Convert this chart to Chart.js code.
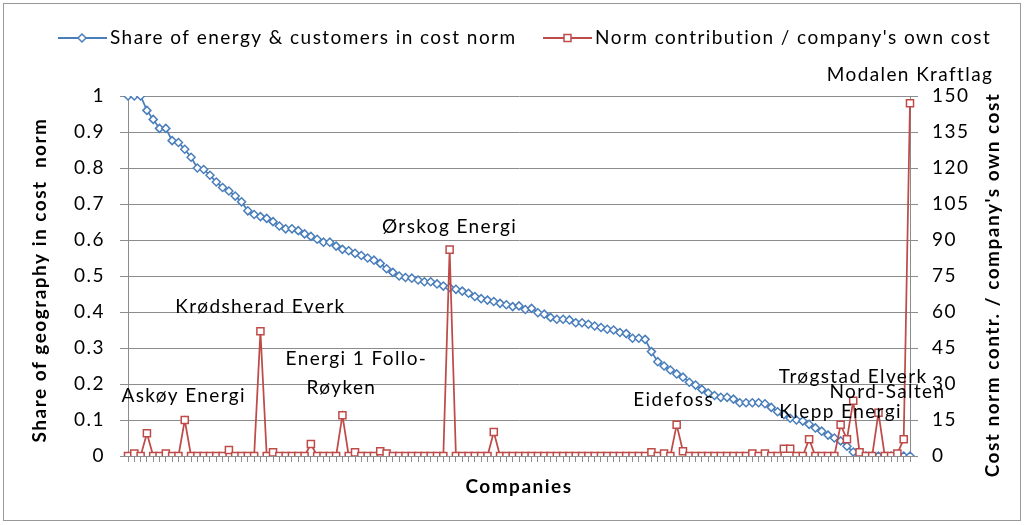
<!DOCTYPE html>
<html>
<head>
<meta charset="utf-8">
<script src="https://cdn.jsdelivr.net/npm/chart.js@4.4.0/dist/chart.umd.min.js"></script>
<style>
  html, body { margin: 0; padding: 0; background: #fff; }
  #wrap { position: relative; width: 1028px; height: 525px; }
</style>
</head>
<body>
<div id="wrap"><canvas id="chart" width="1028" height="525"></canvas></div>
<script>
// Share of energy & customers in cost norm (left axis)
const shareGeo = [
  1, 1, 1, 0.96, 0.935, 0.91, 0.91, 0.876, 0.871, 0.852,
  0.83, 0.80, 0.796, 0.78, 0.761, 0.746, 0.736, 0.722, 0.706, 0.681,
  0.671, 0.665, 0.66, 0.651, 0.639, 0.631, 0.631, 0.626, 0.617, 0.61,
  0.602, 0.594, 0.594, 0.583, 0.574, 0.570, 0.563, 0.557, 0.55, 0.544,
  0.535, 0.52, 0.51, 0.50, 0.496, 0.494, 0.489, 0.484, 0.484, 0.478,
  0.472, 0.468, 0.463, 0.458, 0.452, 0.443, 0.437, 0.433, 0.429, 0.424,
  0.42, 0.415, 0.417, 0.407, 0.41, 0.398, 0.394, 0.385, 0.38, 0.38,
  0.378, 0.37, 0.37, 0.366, 0.361, 0.357, 0.352, 0.35, 0.343, 0.34,
  0.327, 0.327, 0.324, 0.29, 0.262, 0.25, 0.239, 0.228, 0.219, 0.205,
  0.197, 0.185, 0.175, 0.168, 0.163, 0.163, 0.158, 0.148, 0.148, 0.148,
  0.148, 0.145, 0.135, 0.123, 0.115, 0.105, 0.1, 0.097, 0.088, 0.078,
  0.069, 0.058, 0.05, 0.042, 0.027, 0.011, 0.005, 0, 0, 0,
  0, 0, 0, 0, 0
];

// Norm contribution / company's own cost (right axis)
const normContrib = [
  0, 1, 0, 9.5, 0, 0, 1, 0, 0, 15,
  0, 0, 0, 0, 0, 0, 2.5, 0, 0, 0,
  0, 52, 0, 1.5, 0, 0, 0, 0, 0, 5,
  0, 0, 0, 0, 17, 0, 1.5, 0, 0, 0,
  2, 1, 0, 0, 0, 0, 0, 0, 0, 0,
  0, 86, 0, 0, 0, 0, 0, 0, 10, 0,
  0, 0, 0, 0, 0, 0, 0, 0, 0, 0,
  0, 0, 0, 0, 0, 0, 0, 0, 0, 0,
  0, 0, 0, 1.5, 0, 1, 0, 13, 2, 0,
  0, 0, 0, 0, 0, 0, 0, 0, 0, 1,
  0, 1, 0, 0, 3, 3, 0, 0, 7, 0,
  0, 0, 0, 13, 7, 23, 1.5, 0, 0, 18,
  0, 0, 1, 7, 147
];

const companies = shareGeo.map((_, i) => String(i + 1));

// named companies shown as data labels on the red series
const namedIdx = [9, 21, 34, 51, 87, 113, 115, 119, 124];
const namedText = [
  ['Askøy Energi'], ['Krødsherad Everk'], ['Energi 1 Follo-', 'Røyken'],
  ['Ørskog Energi'], ['Eidefoss'], ['Klepp Energi'], ['Trøgstad Elverk'],
  ['Nord-Salten'], ['Modalen Kraftlag']
];
// label placement relative to its point (per line: [dx, dy])
const labelOffsets = [
  [[-1, -24]], [[0, -24]], [[14, -56], [-1, -27]],
  [[0, -23]], [[-3, -25]], [[0, -13]], [[0, -24]],
  [[9, -21]], [[0, -28]]
];

const BLUE = '#4a7ebb';
const RED = '#be4b48';
const GRID = '#8c8c8c';
const FONT = 'Lato';

const decor = {
  id: 'decor',
  beforeDraw(chart) {
    // Excel-like wide glyph spacing for tick labels
    chart.ctx.letterSpacing = '1.5px';
  },
  afterDraw(chart) {
    const ctx = chart.ctx;
    const area = chart.chartArea;
    ctx.save();

    // chart frame
    ctx.strokeStyle = '#999';
    ctx.lineWidth = 1;
    ctx.strokeRect(3.5, 3.5, 1017, 517);

    // data labels
    ctx.fillStyle = '#000';
    ctx.font = '19px ' + FONT;
    ctx.letterSpacing = '1.4px';
    ctx.textAlign = 'center';
    ctx.textBaseline = 'middle';
    const pts = chart.getDatasetMeta(1).data;
    namedIdx.forEach((idx, k) => {
      const p = pts[idx];
      namedText[k].forEach((line, j) => {
        const off = labelOffsets[k][j];
        ctx.fillText(line, p.x + off[0], p.y + off[1]);
      });
    });

    // axis titles
    ctx.font = 'bold 19px ' + FONT;
    ctx.letterSpacing = '1.5px';
    ctx.fillText('Companies', (area.left + area.right) / 2, 487);

    ctx.save();
    ctx.translate(area.left - 88, 280);
    ctx.rotate(-Math.PI / 2);
    ctx.fillText('Share of geography in cost  norm', 0, 0);
    ctx.restore();

    ctx.save();
    ctx.translate(area.right + 83, 285);
    ctx.rotate(-Math.PI / 2);
    ctx.fillText("Cost norm contr. / company's own cost", 0, 0);
    ctx.restore();

    // legend
    const ly = 38;
    ctx.lineWidth = 2;
    ctx.strokeStyle = BLUE;
    ctx.beginPath(); ctx.moveTo(58, ly); ctx.lineTo(107, ly); ctx.stroke();
    ctx.fillStyle = '#fff';
    ctx.lineWidth = 1.5;
    ctx.beginPath();
    ctx.moveTo(82, ly - 4); ctx.lineTo(86, ly); ctx.lineTo(82, ly + 4); ctx.lineTo(78, ly);
    ctx.closePath(); ctx.fill(); ctx.stroke();

    ctx.lineWidth = 2;
    ctx.strokeStyle = RED;
    ctx.beginPath(); ctx.moveTo(543, ly); ctx.lineTo(592, ly); ctx.stroke();
    ctx.lineWidth = 1.5;
    ctx.fillRect(564, ly - 3.5, 7, 7);
    ctx.strokeRect(564, ly - 3.5, 7, 7);

    ctx.fillStyle = '#000';
    ctx.font = '19px ' + FONT;
    ctx.letterSpacing = '1.45px';
    ctx.textAlign = 'left';
    ctx.fillText('Share of energy & customers in cost norm', 110, ly);
    ctx.fillText("Norm contribution / company's own cost", 595, ly);

    ctx.restore();
  }
};

new Chart(document.getElementById('chart'), {
  type: 'line',
  data: {
    labels: companies,
    datasets: [
      {
        label: 'Share of energy & customers in cost norm',
        data: shareGeo,
        yAxisID: 'y',
        order: 1,
        borderColor: BLUE,
        borderWidth: 1.75,
        pointStyle: 'rectRot',
        pointRadius: 4,
        pointBorderWidth: 1.5,
        pointBackgroundColor: '#fff',
        pointBorderColor: BLUE,
        tension: 0
      },
      {
        label: "Norm contribution / company's own cost",
        data: normContrib,
        yAxisID: 'y1',
        order: 0,
        borderColor: RED,
        borderWidth: 1.75,
        pointStyle: 'rect',
        pointRadius: 5,
        pointBorderWidth: 1.5,
        pointBackgroundColor: '#fff',
        pointBorderColor: RED,
        tension: 0
      }
    ]
  },
  options: {
    responsive: false,
    animation: false,
    layout: { padding: { top: 96, left: 0, right: 0, bottom: 0 } },
    plugins: {
      legend: { display: false },
      tooltip: { enabled: false }
    },
    scales: {
      x: {
        type: 'category',
        offset: false,
        grid: { display: true, drawOnChartArea: false, drawTicks: true, tickLength: 6, color: GRID },
        border: { display: true, color: GRID },
        ticks: { autoSkip: false, maxRotation: 0, callback: () => '' },
        afterFit: s => { s.height = 69; }
      },
      y: {
        position: 'left',
        min: 0,
        max: 1,
        ticks: {
          stepSize: 0.1, color: '#000', font: { family: FONT, size: 19 }, padding: 15,
          callback: v => String(Math.round(v * 10) / 10)
        },
        grid: { color: GRID, tickLength: 8 },
        border: { display: true, color: GRID },
        afterFit: s => { s.width = 128; }
      },
      y1: {
        position: 'right',
        min: 0,
        max: 150,
        ticks: { stepSize: 15, color: '#000', font: { family: FONT, size: 19 }, padding: 14 },
        grid: { drawOnChartArea: false, color: GRID, tickLength: 8 },
        border: { display: true, color: GRID },
        afterFit: s => { s.width = 118; }
      }
    }
  },
  plugins: [decor]
});
</script>
</body>
</html>
